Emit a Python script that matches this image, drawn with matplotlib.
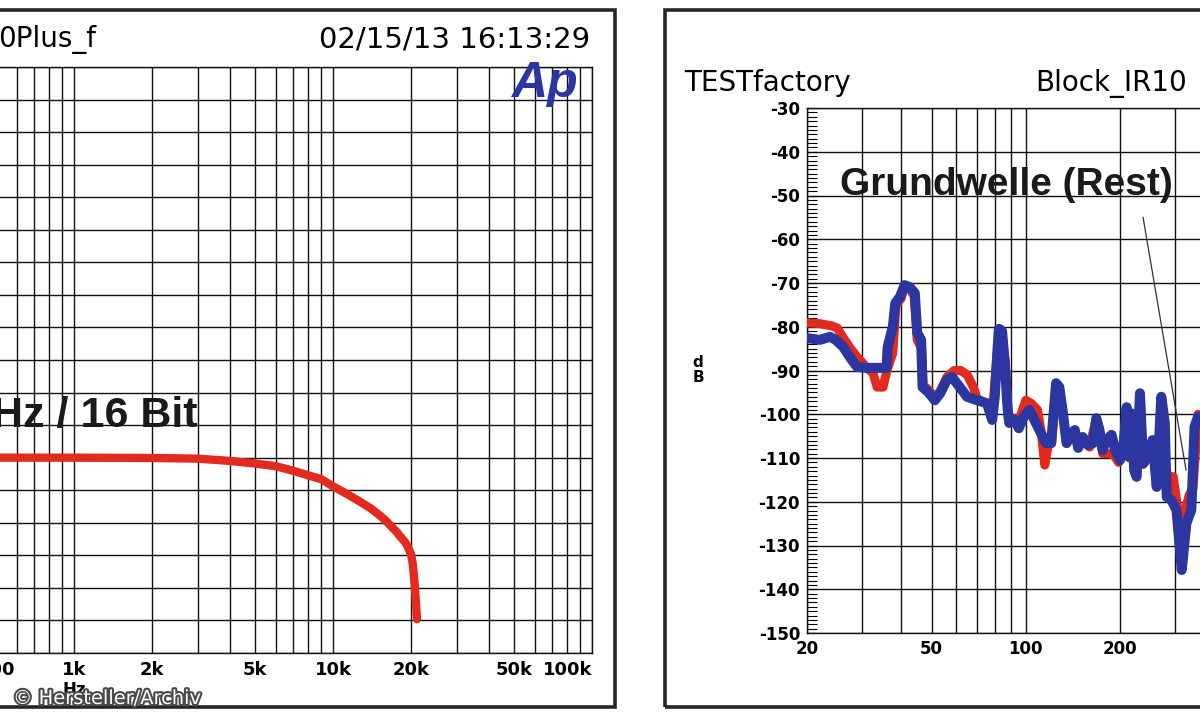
import numpy as np
import matplotlib
matplotlib.use('Agg')
import matplotlib.pyplot as plt
import matplotlib.patheffects as pe
from matplotlib.patches import Rectangle
from matplotlib.ticker import MultipleLocator, LogLocator, NullFormatter

W, H = 1200, 720

# linkes Bild: Frequenzgang 44,1 kHz / 16 Bit (dB, 0.5 dB je Teilung)
fr_hz = [20, 100, 1000, 2000, 3000, 4000, 5000, 6000, 7000, 8000, 9000, 10000,
         11000, 12400, 14000, 15300, 16000, 17700, 18000, 19000, 19400, 20000,
         20300, 20400, 20700, 21100]
fr_db = [0, 0, 0, -0.005, -0.015, -0.05, -0.09, -0.13, -0.2, -0.27, -0.33, -0.44,
         -0.53, -0.65, -0.78, -0.9, -0.97, -1.15, -1.19, -1.3, -1.36, -1.48,
         -1.62, -1.7, -1.97, -2.48]
fr_ticks = [500, 1000, 2000, 5000, 10000, 20000, 50000, 100000]
fr_labels = ['500', '1k', '2k', '5k', '10k', '20k', '50k', '100k']

# rechtes Bild: Spektrum, rot und blau
red_hz = [20, 22, 24, 25, 26, 27.5, 29, 31, 32.5, 33.5, 35, 36, 37.6, 38.5, 40,
          41, 42.5, 44, 45, 46.5, 47, 49, 51, 53, 56, 59, 62, 65, 68, 70, 75, 78,
          81, 83, 86, 88, 92, 95, 100, 104, 109, 112, 115, 118, 121, 125, 128,
          131, 135, 140, 145, 152, 160, 168, 172, 176, 185, 192, 198, 205, 210,
          215, 218, 222, 226, 232, 237, 245, 254, 262, 271, 280, 288, 296, 305,
          315, 326, 333, 342, 355]
red_db = [-79.1, -79.3, -79.8, -80.3, -82.3, -84.9, -87, -89.3, -90.6, -93.8,
          -93.8, -90, -86, -75, -73.5, -70.5, -71, -73, -83, -85, -93.3, -94.5,
          -96, -95, -91.5, -90, -90, -91, -93.8, -96.5, -97.5, -101.3, -86,
          -80.5, -88, -101.5, -101, -101.5, -96.8, -97.5, -99, -104, -111.6,
          -107, -106.6, -93, -94, -99, -106.6, -104.3, -106, -106, -107.5, -101,
          -104, -109, -109, -109.5, -111, -107.5, -98.4, -110, -100, -113,
          -114.3, -95.5, -111.5, -110, -106, -116.6, -96.5, -113, -114.3,
          -114.3, -121, -125, -121, -118.4, -117, -100]
blue_hz = [20, 22, 23.7, 24.7, 26.1, 27.4, 28.9, 31, 35.9, 36.2, 37.6, 38.3,
           39.6, 41, 42.5, 44.2, 45, 46.3, 46.8, 48.9, 51.2, 53.3, 55.9, 58,
           60.2, 64.9, 69.9, 75.3, 78.1, 79.6, 81.1, 82, 84, 85.7, 87.4, 88.6,
           92.3, 95, 98.5, 102.7, 106.5, 110.5, 116, 120.5, 125, 128, 131, 135,
           140, 143.4, 147, 152, 158, 164, 168, 172, 176, 181, 188, 193, 200,
           205, 210, 214, 218, 222, 226, 231.6, 237, 245, 254, 262, 271, 278,
           282, 292, 303, 315, 326, 338, 346, 355]
blue_db = [-82.6, -83, -82.3, -83, -84.6, -86.9, -89.2, -89.4, -89.4, -84.6,
           -80, -74.6, -73.2, -70.5, -70.9, -72.3, -81.4, -83, -93.8, -95,
           -96.8, -95.2, -92.2, -91.5, -92.9, -96, -96.8, -97.5, -101.3, -96,
           -86, -80.5, -81, -88.3, -98.4, -102, -101.3, -103.2, -100.6, -99,
           -101.3, -103.6, -106.6, -106.6, -92.9, -93.8, -99, -106.6, -104.3,
           -103.6, -107.7, -105.2, -107, -106.6, -100.9, -103.6, -108.2, -105.9,
           -104.7, -108.2, -110.5, -107.5, -98.4, -109.8, -99.8, -112.7, -114.3,
           -95.2, -111.2, -109.8, -105.9, -116.6, -96, -102, -118.9, -119.6,
           -121.9, -135.6, -124.9, -121.9, -102.9, -100.6]
rt_ticks = [20, 50, 100, 200]
rt_labels = ['20', '50', '100', '200']
db_ticks = list(range(-150, -29, 10))
db_labels = [str(v) for v in db_ticks]

# Hinweislinie zur Beschriftung (Hz, dB)
ann_start = (237, -55)
ann_end = (325, -112.7)

RED = '#e22a1e'
BLUE = '#2b36a0'
GRID = '#111111'


def fx(x):
    return x / W


def fy(y):
    return 1 - y / H


fig = plt.figure(figsize=(W / 100, H / 100), dpi=100)
fig.patch.set_facecolor('white')

# ---------- linkes Diagramm ----------
ax1 = fig.add_axes([fx(-366), fy(653), 958 / W, 586 / H])
ax1.set_xscale('log')
ax1.set_xlim(20, 100000)
ax1.set_ylim(-3, 6)
ax1.plot(fr_hz, fr_db, color=RED, lw=6.0, solid_capstyle='round',
         solid_joinstyle='round', zorder=3)
ax1.set_xticks(fr_ticks, fr_labels)
ax1.xaxis.set_minor_locator(LogLocator(base=10, subs=np.arange(1, 10), numticks=100))
ax1.xaxis.set_minor_formatter(NullFormatter())
ax1.yaxis.set_major_locator(MultipleLocator(0.5))
ax1.tick_params(axis='x', which='both', length=0, pad=6, labelsize=13)
ax1.tick_params(axis='y', which='both', length=0, labelleft=False)
for lbl in ax1.get_xticklabels():
    lbl.set_fontweight('bold')
ax1.get_xticklabels()[-1].set_ha('right')
ax1.grid(True, which='both', axis='x', color=GRID, lw=1.0)
ax1.grid(True, which='major', axis='y', color=GRID, lw=1.0)
for sp in ax1.spines.values():
    sp.set_linewidth(1.0)
    sp.set_color(GRID)

# ---------- rechtes Diagramm ----------
ax2 = fig.add_axes([fx(807), fy(633), 939 / W, 525 / H])
ax2.set_xscale('log')
ax2.set_xlim(20, 20000)
ax2.set_ylim(-150, -30)
ax2.plot(red_hz, red_db, color=RED, lw=6.5, solid_capstyle='round',
         solid_joinstyle='round', zorder=3)
ax2.plot(blue_hz, blue_db, color=BLUE, lw=7.2, solid_capstyle='round',
         solid_joinstyle='round', zorder=4)
ax2.plot([ann_start[0], ann_end[0]], [ann_start[1], ann_end[1]],
         color='#333333', lw=0.9, zorder=5)
ax2.set_xticks(rt_ticks, rt_labels)
ax2.set_yticks(db_ticks, db_labels)
ax2.xaxis.set_minor_locator(LogLocator(base=10, subs=np.arange(1, 10), numticks=100))
ax2.xaxis.set_minor_formatter(NullFormatter())
ax2.yaxis.set_minor_locator(MultipleLocator(1))
ax2.tick_params(axis='x', which='both', length=0, pad=5, labelsize=12)
ax2.tick_params(axis='y', which='both', direction='in', length=7, width=0.8,
                pad=5, labelsize=12)
for lbl in ax2.get_xticklabels() + ax2.get_yticklabels():
    lbl.set_fontweight('bold')
ax2.grid(True, which='both', axis='x', color=GRID, lw=1.0)
ax2.grid(True, which='major', axis='y', color=GRID, lw=1.0)
for sp in ax2.spines.values():
    sp.set_linewidth(1.0)
    sp.set_color(GRID)
ax2.text(25.5, -49.9, 'Grundwelle (Rest)', family='Liberation Sans',
         fontweight='bold', fontsize=28, color='#1a1a1a', va='baseline',
         ha='left', zorder=6)

# ---------- Texte ----------
fig.text(fx(-2), fy(47), '0Plus_f', fontsize=20, va='baseline', ha='left')
fig.text(fx(590), fy(47), '02/15/13 16:13:29', fontsize=21, va='baseline', ha='right')
fig.text(fx(511), fy(97), 'Ap', family='Liberation Sans', fontsize=36,
         fontweight='bold', style='italic', color=BLUE, va='baseline',
         ha='left', zorder=10)
fig.text(fx(198), fy(427), 'Hz / 16 Bit', family='Liberation Sans',
         fontweight='bold', fontsize=31, color='#1a1a1a', va='baseline',
         ha='right', zorder=10)
fig.text(fx(74), fy(695), 'Hz', fontsize=12, fontweight='bold',
         va='baseline', ha='center')
fig.text(fx(684), fy(91), 'TESTfactory', fontsize=20, va='baseline', ha='left')
fig.text(fx(1035), fy(91), 'Block_IR10', fontsize=20, va='baseline', ha='left')
fig.text(fx(698), fy(370), 'd\nB', fontsize=11, fontweight='bold',
         va='center', ha='center', linespacing=1.0)
fig.text(fx(13), fy(704), '\u00a9 Hersteller/Archiv', fontsize=14,
         color='white', va='baseline', ha='left', zorder=20,
         path_effects=[pe.withStroke(linewidth=3, foreground='#4a4a4a')])

# Rahmen
fig.add_artist(Rectangle((fx(-10), fy(707)), 625 / W, 697 / H,
                         transform=fig.transFigure, fill=False, lw=2.6,
                         ec='#262626'))
fig.add_artist(Rectangle((fx(665), fy(707)), 560 / W, 697 / H,
                         transform=fig.transFigure, fill=False, lw=2.6,
                         ec='#262626'))

fig.savefig('out.png', dpi=100)
